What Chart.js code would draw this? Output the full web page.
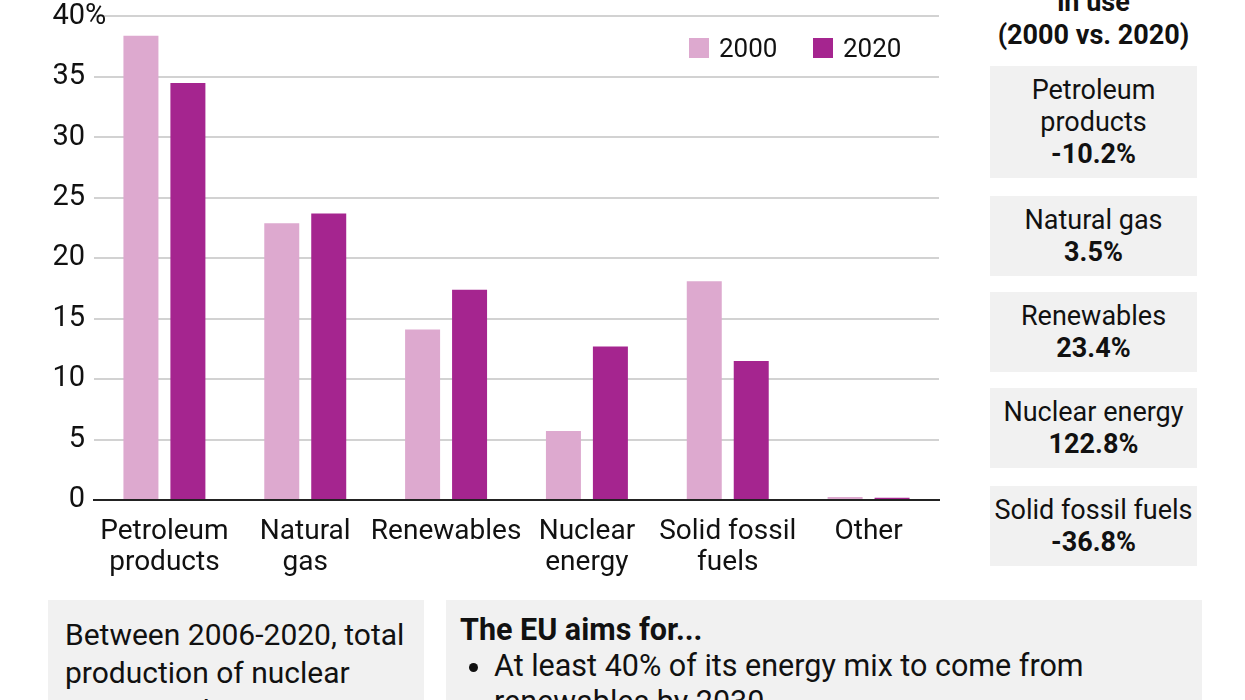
<!DOCTYPE html>
<html>
<head>
<meta charset="utf-8">
<script src="https://cdn.jsdelivr.net/npm/chart.js"></script>
<style>
  body { margin: 0; width: 1245px; height: 700px; overflow: hidden; background: #fff;
         font-family: Roboto, "Noto Sans", sans-serif; color: #111; position: relative; }
  #chartWrap { position: absolute; left: 0; top: -10px; width: 945px; height: 595px; }
  .legend { position: absolute; top: 33px; font-size: 26px; display: flex; align-items: center; }
  .legend span.sw { width: 20px; height: 20px; display: inline-block; margin-right: 10px; }
  #side { position: absolute; left: 990px; top: 0; width: 207px; }
  .hdr { position: absolute; left: -30px; width: 267px; text-align: center; font-weight: bold;
         font-size: 27px; line-height: 33px; }
  .box { position: absolute; left: 0; width: 207px; background: #f1f1f1; text-align: center;
         font-size: 27px; line-height: 32px; padding: 8px 0; box-sizing: border-box; }
  .box b { display: block; }
  .note { position: absolute; top: 600px; background: #f1f1f1; height: 140px; box-sizing: border-box; }
  #noteL { left: 48px; width: 376px; padding: 16px 6px 0 17px; font-size: 30px; line-height: 38px; }
  #noteR { left: 446px; width: 756px; padding: 12px 10px 0 14px; font-size: 30.5px; line-height: 36px; }
  #noteR ul { margin: 0; padding-left: 34px; width: 620px; }
</style>
</head>
<body>
<div id="chartWrap"><canvas id="myChart" width="945" height="595"></canvas></div>
<div class="legend" style="left:689px"><span class="sw" id="sw0"></span>2000</div>
<div class="legend" style="left:813px"><span class="sw" id="sw1"></span>2020</div>
<div id="side"></div>
<div class="note" id="noteL">Between 2006-2020, total production of nuclear energy in the EU decreased</div>
<div class="note" id="noteR"><b>The EU aims for...</b>
  <ul><li>At least 40% of its energy mix to come from renewables by 2030</li></ul>
</div>
<script>
// Data
const categories = [['Petroleum', 'products'], ['Natural', 'gas'], ['Renewables'], ['Nuclear', 'energy'], ['Solid fossil', 'fuels'], ['Other']];
const share2000 = [38.4, 22.9, 14.1, 5.7, 18.1, 0.25];
const share2020 = [34.5, 23.7, 17.4, 12.7, 11.5, 0.18];
const yTicks = [0, 5, 10, 15, 20, 25, 30, 35, 40];

// Side panel: change in use
const changeNames = [['Petroleum', 'products'], ['Natural gas'], ['Renewables'], ['Nuclear energy'], ['Solid fossil fuels']];
const changeValues = ['-10.2%', '3.5%', '23.4%', '122.8%', '-36.8%'];

const colors = ['#dda9cf', '#a5258f'];
document.getElementById('sw0').style.background = colors[0];
document.getElementById('sw1').style.background = colors[1];

// side panel boxes
const side = document.getElementById('side');
side.innerHTML = '<div class="hdr" style="top:-47px">% change<br>in use<br>(2000 vs. 2020)</div>';
const boxTops = [66, 196, 292, 388, 486];
changeNames.forEach(function(n, i) {
  const d = document.createElement('div');
  d.className = 'box';
  d.style.top = boxTops[i] + 'px';
  d.innerHTML = n.join('<br>') + '<b>' + changeValues[i] + '</b>';
  side.appendChild(d);
});

// draws the "%" after the top tick
const percentPlugin = {
  id: 'percentPlugin',
  afterDraw(chart) {
    const y = chart.scales.y;
    const c = chart.ctx;
    c.save();
    c.font = '29px Roboto';
    c.fillStyle = '#111';
    c.textAlign = 'left';
    c.textBaseline = 'middle';
    c.fillText('%', chart.chartArea.left - 9, y.getPixelForValue(40));
    c.restore();
  }
};

const ctx = document.getElementById('myChart').getContext('2d');
new Chart(ctx, {
  type: 'bar',
  data: {
    labels: categories,
    datasets: [
      { label: '2000', data: share2000, backgroundColor: colors[0] },
      { label: '2020', data: share2020, backgroundColor: colors[1] }
    ]
  },
  options: {
    responsive: false,
    animation: false,
    layout: { padding: { top: 0, right: 6, left: 0, bottom: 0 } },
    categoryPercentage: 0.667,
    barPercentage: 0.745,
    plugins: { legend: { display: false }, tooltip: { enabled: false } },
    scales: {
      x: {
        grid: { display: false },
        border: { color: '#222', width: 2 },
        ticks: { font: { size: 28, family: 'Roboto', lineHeight: 1.1 }, color: '#111', padding: 9, maxRotation: 0, autoSkip: false },
        afterFit(s) { s.height = 85; }
      },
      y: {
        min: 0, max: 40,
        afterBuildTicks(s) { s.ticks = yTicks.map(v => ({ value: v })); },
        grid: { color: '#d2d2d2', lineWidth: 2, drawTicks: false },
        border: { display: false },
        ticks: { font: { size: 29, family: 'Roboto' }, color: '#111', padding: 9 },
        afterFit(s) { s.width = 94; }
      }
    }
  },
  plugins: [percentPlugin]
});
</script>
</body>
</html>
